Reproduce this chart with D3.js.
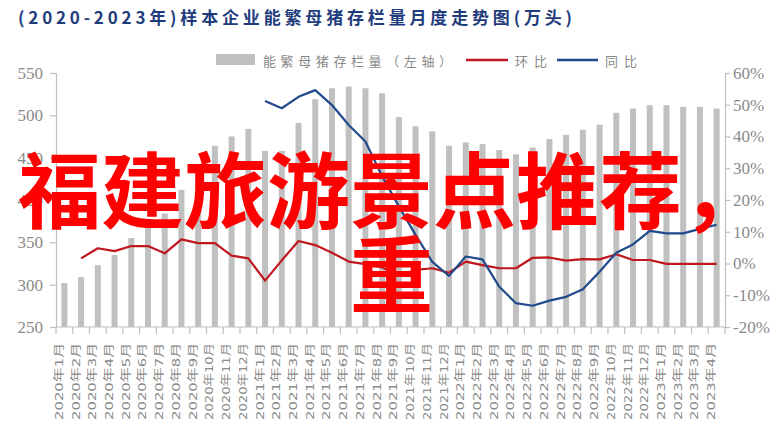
<!DOCTYPE html>
<html><head><meta charset="utf-8">
<script src="https://cdn.jsdelivr.net/npm/d3@7"></script>
<style>html,body{margin:0;padding:0;background:#fff;}svg{display:block;}</style>
</head><body>
<svg id="chart" width="783" height="443"></svg>
<script>
const months = [
 "2020年1月","2020年2月","2020年3月","2020年4月","2020年5月","2020年6月","2020年7月","2020年8月","2020年9月","2020年10月","2020年11月","2020年12月",
 "2021年1月","2021年2月","2021年3月","2021年4月","2021年5月","2021年6月","2021年7月","2021年8月","2021年9月","2021年10月","2021年11月","2021年12月",
 "2022年1月","2022年2月","2022年3月","2022年4月","2022年5月","2022年6月","2022年7月","2022年8月","2022年9月","2022年10月","2022年11月","2022年12月",
 "2023年1月","2023年2月","2023年3月","2023年4月"];
const stock = [302,309,323,335,355,372,384,412,438,464,475,484,
 458,458,491,519,532,534,532,526,498,487,481,464,
 468,466,459,454,462,472,477,483,489,503,508,512,
 512,510,510,508];
// 环比 from 2020年2月
const momMonths = months.slice(1);
const mom = [1.6,4.8,3.9,5.5,5.5,3.2,7.6,6.4,6.4,2.5,1.6,
 -5.4,1.0,7.1,5.8,3.4,0.6,-0.2,-1.2,-3.9,-2.0,-1.5,-2.9,
 0.6,-0.5,-1.5,-1.5,1.8,1.9,0.9,1.4,1.3,2.9,1.1,1.1,
 -0.1,-0.1,-0.1,-0.1];
// 同比 from 2021年1月
const yoyMonths = months.slice(12);
const yoy = [51.2,48.9,52.5,54.6,49.9,43.6,38.4,27.5,18,9,0.5,-3.9,
 2.2,1.3,-7.3,-12.5,-13.3,-11.7,-10.5,-8.1,-2.6,3.4,6.0,10.3,
 9.5,9.5,10.9,12.2];
const leftTicks = [250,300,350,400,450,500,550];
const rightTicks = [-20,-10,0,10,20,30,40,50,60];
const titleText = "(2020-2023年)样本企业能繁母猪存栏量月度走势图(万头)";
const legendNames = ["能繁母猪存栏量（左轴）","环比","同比"];
const overlayLines = ["福建旅游景点推荐，","重"];

const svg = d3.select("#chart");
const axisColor = "#bfbfbf", labelColor = "#8a8a8a";
const redC = "#c0161e", blueC = "#1f4a8c";

const x = d3.scaleBand().domain(months).range([56,725]).padding(0);
const yL = d3.scaleLinear().domain([250,550]).range([327,73]);
const yR = d3.scaleLinear().domain([-20,60]).range([327,73]);

// title
svg.append("text").attr("x",18).attr("y",23.5)
 .attr("font-family","'Noto Sans CJK SC'").attr("font-weight","bold").attr("font-size",17)
 .attr("fill","#1f3c7c").attr("textLength",554).attr("lengthAdjust","spacing").text(titleText);

// bars
svg.append("g").selectAll("rect").data(months).join("rect")
 .attr("x",(d)=>x(d)+x.bandwidth()/2-3).attr("width",6)
 .attr("y",(d,i)=>yL(stock[i])).attr("height",(d,i)=>yL(250)-yL(stock[i]))
 .attr("fill","#c0c0c0");

// axes
const gl = svg.append("g").attr("transform","translate(56,0)")
 .call(d3.axisLeft(yL).tickValues(leftTicks).tickSize(6).tickPadding(7).tickFormat(d3.format("d")));
const gr = svg.append("g").attr("transform","translate(725,0)")
 .call(d3.axisRight(yR).tickValues(rightTicks).tickSize(5).tickPadding(3).tickFormat(d=>d+"%"));
[gl,gr].forEach(g=>{
 g.select(".domain").attr("stroke",axisColor).attr("stroke-width",1.2);
 g.selectAll(".tick line").attr("stroke",axisColor).attr("stroke-width",1.2);
 g.selectAll(".tick text").attr("fill",labelColor).attr("font-family","'Liberation Serif'").attr("font-size",17);
});
// bottom axis with ticks at band boundaries
const gb = svg.append("g").attr("transform","translate(0,327)");
gb.append("line").attr("x1",56).attr("x2",725).attr("y1",0).attr("y2",0).attr("stroke",axisColor).attr("stroke-width",1.2);
const bounds = months.map(m=>x(m)).concat([x.range()[1]]);
gb.selectAll("line.t").data(bounds).join("line").attr("class","t")
 .attr("x1",d=>d).attr("x2",d=>d).attr("y1",0).attr("y2",7).attr("stroke",axisColor).attr("stroke-width",1.2);
gb.selectAll("text").data(months).join("text")
 .attr("transform",d=>`translate(${x(d)+x.bandwidth()/2-1.5},16) rotate(-90)`)
 .attr("text-anchor","end").attr("font-family","'DejaVu Sans','Noto Sans CJK SC'").attr("font-size",11)
 .attr("fill",labelColor).attr("textLength",d=>d.length>=10?87:77).attr("lengthAdjust","spacingAndGlyphs")
 .text(d=>d);

// lines
const lineR = d3.line().x((d,i)=>x(momMonths[i])+x.bandwidth()/2).y(d=>yR(d));
svg.append("path").datum(mom).attr("d",lineR).attr("fill","none").attr("stroke",redC).attr("stroke-width",2.2).attr("stroke-linejoin","round");
const lineB = d3.line().x((d,i)=>x(yoyMonths[i])+x.bandwidth()/2).y(d=>yR(d));
svg.append("path").datum(yoy).attr("d",lineB).attr("fill","none").attr("stroke",blueC).attr("stroke-width",2.2).attr("stroke-linejoin","round");

// legend
const lg = svg.append("g");
lg.append("rect").attr("x",216).attr("y",54).attr("width",39).attr("height",11).attr("fill","#c0c0c0");
lg.append("text").attr("x",263).attr("y",66).attr("font-family","'Noto Sans CJK SC'").attr("font-size",13)
 .attr("fill",labelColor).attr("textLength",189).attr("lengthAdjust","spacing").text(legendNames[0]);
lg.append("line").attr("x1",466).attr("x2",508).attr("y1",60).attr("y2",60).attr("stroke",redC).attr("stroke-width",2.5);
lg.append("text").attr("x",515).attr("y",66).attr("font-family","'Noto Sans CJK SC'").attr("font-size",13)
 .attr("fill",labelColor).attr("textLength",32).attr("lengthAdjust","spacing").text(legendNames[1]);
lg.append("line").attr("x1",557).attr("x2",598).attr("y1",60).attr("y2",60).attr("stroke",blueC).attr("stroke-width",2.5);
lg.append("text").attr("x",605).attr("y",66).attr("font-family","'Noto Sans CJK SC'").attr("font-size",13)
 .attr("fill",labelColor).attr("textLength",32).attr("lengthAdjust","spacing").text(legendNames[2]);

// overlay big red text
svg.append("g").selectAll("text").data(overlayLines).join("text")
 .attr("x",391.5).attr("y",(d,i)=>222+i*84).attr("text-anchor","middle")
 .attr("font-family","'Noto Sans CJK SC'").attr("font-weight","bold").attr("font-size",83)
 .attr("fill","#ff0000").text(d=>d);
</script>
</body></html>
